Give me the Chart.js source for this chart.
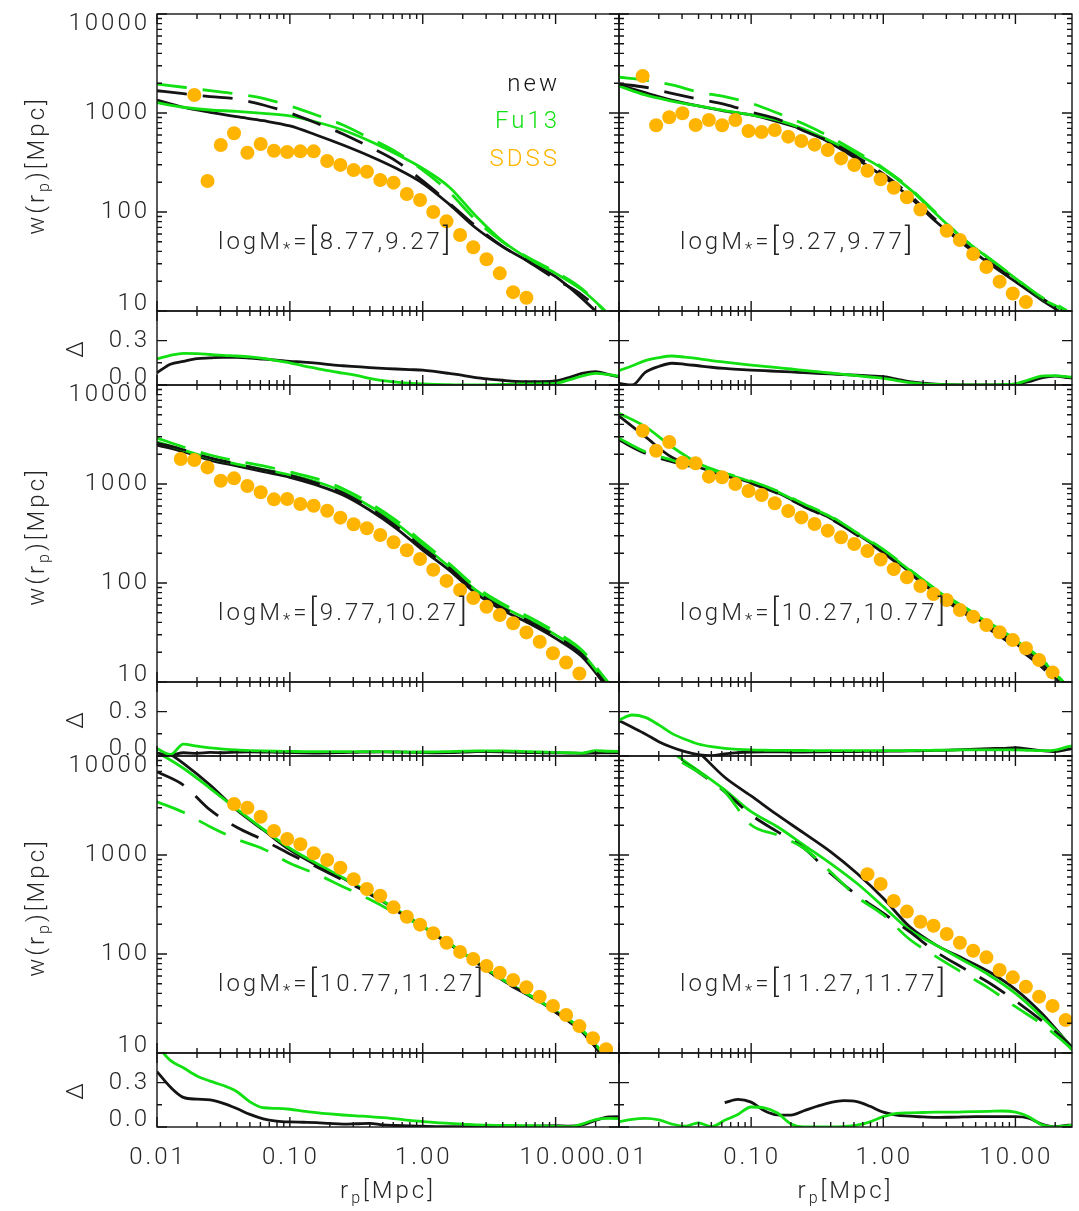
<!DOCTYPE html>
<html>
<head>
<meta charset="utf-8">
<title>w(rp) by stellar mass</title>
<script src="https://cdn.jsdelivr.net/npm/chart.js@4.4.1/dist/chart.umd.min.js"></script>
<style>
  html, body { margin: 0; padding: 0; background: #fff; }
  body { width: 1079px; height: 1211px; position: relative; overflow: hidden; }
  canvas { position: absolute; top: 0; }
  #colA { left: 0; }
  #colB { left: 560px; }
</style>
</head>
<body>
<canvas id="colA" width="700" height="1211"></canvas>
<canvas id="colB" width="519" height="1211"></canvas>
<script>
// separation grids [Mpc]
const rpModel = [0.01, 0.0158, 0.0251, 0.0398, 0.0631, 0.1, 0.158, 0.251, 0.398, 0.631, 1, 1.58, 2.51, 3.98, 6.31, 10, 15.8, 25.1, 39.8];
const rpDelta = [0.01, 0.0126, 0.0158, 0.02, 0.0251, 0.0316, 0.0398, 0.0501, 0.0631, 0.0794, 0.1, 0.126, 0.158, 0.2, 0.251, 0.316, 0.398, 0.501, 0.631, 0.794,
                 1, 1.26, 1.58, 2, 2.51, 3.16, 3.98, 5.01, 6.31, 7.94, 10, 12.6, 15.8, 20, 25.1, 31.6];
const rpSDSS = [0.0151, 0.0191, 0.024, 0.0302, 0.038, 0.0479, 0.0603, 0.0759, 0.0955, 0.12, 0.151, 0.191, 0.24, 0.302, 0.38, 0.479, 0.603,
                0.759, 0.955, 1.2, 1.51, 1.91, 2.4, 3.02, 3.8, 4.79, 6.03, 7.59, 9.55, 12, 15.1, 19.1, 24];

const massBins = ['8.77,9.27', '9.27,9.77', '9.77,10.27', '10.27,10.77', '10.77,11.27', '11.27,11.77'];

// w(rp) of the new model, solid
const newW1 = [1352, 1143, 1016, 918, 836, 740, 600, 475, 368, 276, 195, 120, 68.9, 44.7, 31.5, 22.2, 13.4, 7.4, 4.0];
const newW2 = [1919, 1603, 1352, 1178, 1047, 955, 817, 673, 498, 343, 228, 142, 79.8, 48.3, 30.3, 19.8, 12.9, 8.5, 4.5];
const newW3 = [2477, 2118, 1746, 1521, 1330, 1169, 977, 774, 546, 357, 215, 135, 78.7, 53.3, 39.2, 27.6, 18.0, 8.5, 4.6];
const newW4 = [4864, 3006, 1862, 1476, 1233, 1030, 817, 600, 451, 313, 207, 130, 79.8, 53.3, 36.8, 24.6, 15.5, 7.9, 4.1];
const newW5 = [12900, 8430, 5090, 2850, 1790, 1125, 792, 582, 410, 278, 189, 128, 83.6, 54.6, 38.5, 26.1, 16.4, 7.9, 4.2];
const newW6 = [46500, 29200, 18300, 11000, 6100, 3950, 2540, 1660, 1080, 653, 366, 189, 123, 90.6, 66.2, 44.0, 25.2, 12.5, 6.3];

// w(rp) of Fu13, solid
const fuW1 = [1271, 1143, 1072, 1040, 993, 933, 811, 673, 521, 385, 275, 179, 91.2, 50.9, 33.5, 24.0, 16.3, 9.3, 5.1];
const fuW2 = [1875, 1521, 1321, 1178, 1054, 955, 849, 689, 521, 385, 272, 171, 95.5, 54.2, 34.0, 21.4, 13.4, 9.5, 5.3];
const fuW3 = [2673, 2203, 1820, 1592, 1406, 1233, 1054, 836, 600, 401, 242, 146, 84.9, 57.7, 42.3, 29.9, 19.5, 9.1, 5.0];
const fuW4 = [5176, 3793, 2382, 1618, 1282, 1054, 836, 614, 468, 318, 215, 135, 84.9, 57.7, 39.2, 26.5, 16.7, 8.7, 4.6];
const fuW5 = [11000, 7520, 4720, 2900, 1820, 1169, 824, 590, 416, 282, 192, 128, 83.6, 55.5, 38.5, 26.7, 17.1, 8.5, 4.5];
const fuW6 = [null, 18300, 11000, 7110, 4540, 2740, 1930, 1260, 824, 518, 301, 175, 123, 86.9, 61.4, 40.1, 23.3, 12.5, 6.3];

// dashed variants
const newW1d = [1679, 1567, 1462, 1384, 1205, 1000, 792, 614, 454, 327, 206, 123, 71.8, 45.0, 31.3, 21.0, 14.5, 8.3, 4.5];
const newW2d = [1963, 1820, 1581, 1384, 1225, 1023, 869, 658, 509, 360, 242, 149, 83, 49.8, 31.3, 20.6, 13.5, 8.9, 4.9];
const newW3d = [2594, 2218, 1832, 1592, 1393, 1225, 1023, 811, 573, 374, 226, 142, 82.4, 55.8, 41.0, 29.0, 18.9, 8.9, 4.9];
const newW4d = [2780, 2042, 1679, 1442, 1213, 1016, 805, 590, 443, 305, 202, 126, 77.4, 50.9, 34.3, 22.6, 14.2, 7.4, 3.9];
const newW5d = [6930, 5090, 2850, 1905, 1419, 1023, 762, 558, 404, 274, 186, 126, 82.4, 53.7, 37.9, 25.8, 16.2, 8.1, 4.3];
const newW6d = [null, 16300, 10200, 6890, 4360, 2540, 1720, 1170, 653, 394, 258, 168, 105, 72.8, 51.3, 33.7, 21.2, 12.5, 6.3];

const fuW1d = [1963, 1820, 1679, 1556, 1406, 1178, 955, 757, 558, 404, 265, 159, 83, 49.8, 34.3, 24.8, 16.7, 9.1, 5.0];
const fuW2d = [2296, 2153, 1919, 1629, 1462, 1253, 1000, 774, 573, 404, 278, 175, 97.7, 54.6, 34.3, 21.5, 13.8, 9.8, 5.3];
const fuW3d = [2917, 2366, 1963, 1706, 1521, 1321, 1132, 897, 643, 430, 259, 157, 91.2, 61.8, 45.4, 32.0, 20.9, 9.8, 5.3];
const fuW4d = [2897, 2118, 1746, 1476, 1282, 1072, 849, 628, 475, 322, 219, 137, 86.3, 58.6, 39.7, 27.0, 16.9, 8.9, 4.8];
const fuW5d = [3451, 2698, 1932, 1442, 1151, 824, 643, 479, 357, 258, 189, 128, 83.6, 55.5, 38.5, 26.7, 17.1, 8.5, 4.5];
const fuW6d = [null, 16300, 10000, 6890, 4360, 2010, 1590, 1170, 678, 379, 248, 141, 94, 64.7, 45.0, 29.4, 19.6, 11.8, 6.0];

// SDSS measurements
const sdss1 = [null, 1521, 206, 475, 624, 397, 486, 416, 404, 410, 410, 327, 299, 265, 255, 210, 198, 152, 132, 100, 80.5, 58.6, 44.0,
               33.3, 24.0, 15.5, 13.6, null, null, null, null, null, null];
const sdss2 = [2366, 752, 906, 993, 757, 849, 752, 849, 658, 643, 673, 577, 521, 479, 423, 348, 298, 261, 214, 176, 141, 106, null,
               64.7, 52.1, 37.7, 27.8, 19.8, 15.0, 12.3, null, null, null];
const sdss3 = [1790, 1746, 1472, 1079, 1140, 955, 824, 700, 705, 628, 604, 537, 457, 392, 357, 305, 258, 214, 175, 136, 105, 85.0,
               70.5, 57.6, 47.5, 39.2, 31.7, 25.5, 19.5, 15.7, 12.2, null, null];
const sdss4 = [3451, 2168, 2655, 1641, 1618, 1186, 1169, 1000, 849, 774, 638, 533, 460, 394, 338, 289, 248, 210, 173, 138, 114, 93.0,
               77.5, 67.3, 53.3, 45.7, 37.7, 31.8, 26.5, 21.9, 16.7, 12.5, null];
const sdss5 = [null, null, null, null, 3273, 3006, 2438, 1746, 1452, 1283, 1040, 890, 744, 569, 454, 388, 296, 238, 198, 162, 130, 105,
               89.0, 75.7, 64.7, 54.6, 46.1, 37.1, 29.9, 24.2, 18.7, 14.1, 10.9];
const sdss6 = [null, null, null, null, null, null, null, null, null, null, null, null, null, null, null, null, null, 638, 509, 343, 268,
               212, 193, 159, 130, 108, 92.5, 68.9, 58.1, 46.7, 37.1, 29.9, 21.5];

// residuals Delta
const newD1 = [0.083, 0.14, 0.16, 0.178, 0.183, 0.187, 0.187, 0.182, 0.175, 0.168, 0.16, 0.155, 0.148, 0.137, 0.13, 0.124, 0.118, 0.113,
               0.108, 0.104, 0.101, 0.09, 0.078, 0.065, 0.05, 0.04, 0.032, 0.025, 0.023, 0.023, 0.027, 0.05, 0.078, 0.09, 0.07, 0.05];
const fuD1 = [0.176, 0.2, 0.214, 0.212, 0.206, 0.2, 0.196, 0.19, 0.18, 0.165, 0.15, 0.13, 0.113, 0.095, 0.08, 0.065, 0.045, 0.03,
              0.02, 0.012, 0.007, 0.004, 0.002, 0, 0, 0.002, 0.004, 0.006, 0.008, 0.009, 0.011, 0.035, 0.06, 0.079, 0.07, 0.056];
const newD2 = [0.011, 0.0, 0.085, 0.125, 0.147, 0.14, 0.13, 0.12, 0.112, 0.106, 0.101, 0.097, 0.092, 0.088, 0.083, 0.079, 0.075, 0.07,
               0.066, 0.061, 0.056, 0.04, 0.023, 0.012, 0.006, 0.003, 0.001, 0, 0, 0.002, 0.005, 0.022, 0.048, 0.06, 0.05, 0.04];
const fuD2 = [0.097, 0.13, 0.165, 0.185, 0.196, 0.188, 0.178, 0.165, 0.155, 0.145, 0.135, 0.126, 0.117, 0.108, 0.099, 0.09, 0.081, 0.072,
              0.063, 0.054, 0.045, 0.03, 0.016, 0.008, 0.004, 0.002, 0, 0, 0, 0.003, 0.008, 0.035, 0.06, 0.063, 0.055, 0.05];
const newD3 = [0.02, 0.008, 0.022, 0.018, 0.024, 0.022, 0.026, 0.028, 0.027, 0.025, 0.023, 0.021, 0.02, 0.021, 0.023, 0.025, 0.027, 0.028,
               0.027, 0.025, 0.023, 0.022, 0.023, 0.026, 0.029, 0.03, 0.028, 0.025, 0.023, 0.022, 0.021, 0.02, 0.018, 0.02, 0.022, 0.02];
const fuD3 = [0.05, 0.01, 0.08, 0.066, 0.055, 0.047, 0.041, 0.037, 0.034, 0.032, 0.031, 0.03, 0.029, 0.029, 0.029, 0.03, 0.03, 0.029,
              0.028, 0.027, 0.027, 0.028, 0.03, 0.032, 0.034, 0.035, 0.034, 0.032, 0.03, 0.027, 0.024, 0.022, 0.02, 0.036, 0.032, 0.03];
const newD4 = [0.239, 0.194, 0.149, 0.097, 0.059, 0.029, 0.009, 0.002, 0.014, 0.023, 0.027, 0.028, 0.028, 0.027, 0.027, 0.028, 0.029, 0.03,
               0.03, 0.031, 0.032, 0.033, 0.034, 0.036, 0.038, 0.04, 0.043, 0.047, 0.05, 0.052, 0.056, 0.047, 0.036, 0.029, 0.045, 0.063];
const fuD4 = [0.243, 0.277, 0.261, 0.21, 0.153, 0.113, 0.081, 0.063, 0.052, 0.045, 0.041, 0.039, 0.038, 0.037, 0.037, 0.036, 0.036, 0.036,
              0.036, 0.036, 0.036, 0.036, 0.037, 0.038, 0.039, 0.04, 0.041, 0.041, 0.041, 0.041, 0.041, 0.038, 0.036, 0.04, 0.063, 0.081];
const newD5 = [0.374, 0.27, 0.2, 0.188, 0.183, 0.16, 0.125, 0.085, 0.055, 0.04, 0.034, 0.032, 0.03, 0.024, 0.02, 0.022, 0.025, 0.014,
               0.01, 0.007, 0.005, 0.003, 0.002, 0.002, 0.002, 0.002, 0.003, 0.004, 0.005, 0.007, 0.009, 0.005, 0.014, 0.045, 0.068, 0.07];
const fuD5 = [0.55, 0.45, 0.4, 0.345, 0.31, 0.28, 0.24, 0.17, 0.13, 0.126, 0.12, 0.108, 0.097, 0.088, 0.081, 0.075, 0.07, 0.063,
              0.055, 0.045, 0.037, 0.03, 0.025, 0.02, 0.014, 0.012, 0.01, 0.01, 0.009, 0.008, 0.006, 0.002, 0.02, 0.05, 0.058, 0.055];
const newD6 = [null, null, null, null, null, null, null, null, 0.164, 0.187, 0.168, 0.11, 0.082, 0.08, 0.11, 0.14, 0.165, 0.178,
               0.172, 0.14, 0.1, 0.08, 0.074, 0.068, 0.065, 0.066, 0.068, 0.07, 0.07, 0.07, 0.07, 0.06, 0.02, 0.002, 0.012, 0.015];
const fuD6 = [0.036, 0.052, 0.058, 0.048, 0.02, 0.005, 0.028, 0.002, 0.045, 0.085, 0.135, 0.13, 0.095, 0.02, 0, 0, 0, 0.003,
              0.012, 0.035, 0.07, 0.092, 0.096, 0.098, 0.1, 0.1, 0.102, 0.104, 0.106, 0.108, 0.1, 0.07, 0.015, 0, 0.01, 0.015];

const newW = [newW1, newW2, newW3, newW4, newW5, newW6];
const fuW = [fuW1, fuW2, fuW3, fuW4, fuW5, fuW6];
const newWd = [newW1d, newW2d, newW3d, newW4d, newW5d, newW6d];
const fuWd = [fuW1d, fuW2d, fuW3d, fuW4d, fuW5d, fuW6d];
const sdss = [sdss1, sdss2, sdss3, sdss4, sdss5, sdss6];
const newD = [newD1, newD2, newD3, newD4, newD5, newD6];
const fuD = [fuD1, fuD2, fuD3, fuD4, fuD5, fuD6];

const INK = '#141414';
const GREEN = '#12e012';
const ORANGE = '#ffb400';
const TEXT = '#262626';
const FAMILY = 'Roboto, "DejaVu Sans", sans-serif';

const X_MAJOR = [0.01, 0.1, 1, 10];
const X_MINOR = [];
for (let n = -2; n <= 1; n++) for (let k = 2; k <= 9; k++) X_MINOR.push(k * Math.pow(10, n));
const W_MAJOR = [10, 100, 1000, 10000];
const W_MINOR = [];
for (let n = 1; n <= 3; n++) for (let k = 2; k <= 9; k++) W_MINOR.push(k * Math.pow(10, n));

function pts(xs, ys) {
  return xs.map((x, i) => ({ x: x, y: ys[i] }));
}

function curve(ys, xs, axis, color, dashed) {
  return {
    data: pts(xs, ys),
    yAxisID: axis,
    borderColor: color,
    borderWidth: 2.8,
    borderDash: dashed ? [30, 16] : [],
    pointRadius: 0,
    cubicInterpolationMode: 'monotone',
    fill: false,
    order: 1,
    panelClip: true
  };
}

// text made of pieces: [string, size, dy]
function runs(ctx, parts, x, y, align, color) {
  ctx.fillStyle = color;
  ctx.textBaseline = 'middle';
  ctx.textAlign = 'left';
  ctx.letterSpacing = '3px';
  let w = 0;
  for (const p of parts) {
    ctx.font = '300 ' + p[1] + 'px ' + FAMILY;
    w += ctx.measureText(p[0]).width;
  }
  let cx = align === 'center' ? x - w / 2 : align === 'right' ? x - w : x;
  for (const p of parts) {
    ctx.font = '300 ' + p[1] + 'px ' + FAMILY;
    ctx.fillText(p[0], cx, y + (p[2] || 0));
    cx += ctx.measureText(p[0]).width;
  }
}

function drawPanel(ctx, xs, ys, left, right, yMajor, yMinor) {
  const top = ys.top, bottom = ys.bottom;
  ctx.strokeStyle = INK;
  ctx.lineWidth = 1.4;
  ctx.setLineDash([]);
  ctx.strokeRect(left, top, right - left, bottom - top);
  ctx.beginPath();
  const tick = (px, py, dx, dy) => { ctx.moveTo(px, py); ctx.lineTo(px + dx, py + dy); };
  [[X_MAJOR, 10], [X_MINOR, 5]].forEach(([vals, len]) => {
    vals.forEach(v => {
      if (v < xs.min || v > xs.max) return;
      const px = xs.getPixelForValue(v);
      tick(px, bottom, 0, -len);
      tick(px, top, 0, len);
    });
  });
  [[yMajor, 10], [yMinor, 5]].forEach(([vals, len]) => {
    vals.forEach(v => {
      const py = ys.getPixelForValue(v);
      tick(left, py, len, 0);
      tick(right, py, -len, 0);
    });
  });
  ctx.stroke();
}

const panelClip = {
  id: 'panelClip',
  beforeDatasetDraw(chart, args) {
    const ds = chart.data.datasets[args.index];
    if (!ds.panelClip) return;
    const ys = chart.scales[args.meta.yAxisID];
    const a = chart.chartArea;
    chart.ctx.save();
    chart.ctx.beginPath();
    chart.ctx.rect(a.left, ys.top, a.right - a.left, ys.bottom - ys.top);
    chart.ctx.clip();
  },
  afterDatasetDraw(chart, args) {
    if (chart.data.datasets[args.index].panelClip) chart.ctx.restore();
  }
};

const frames = {
  id: 'frames',
  afterDraw(chart, args, opts) {
    const ctx = chart.ctx;
    const a = chart.chartArea;
    const xs = chart.scales.x;
    const col = opts.col;
    ctx.save();
    for (let row = 0; row < 3; row++) {
      const m = chart.scales['m' + row];
      const d = chart.scales['d' + row];
      drawPanel(ctx, xs, m, a.left, a.right, W_MAJOR, W_MINOR);
      drawPanel(ctx, xs, d, a.left, a.right, [0, 0.3], [0.15]);

      const bin = massBins[row * 2 + col].split(',');
      runs(ctx, [['logM', 24], ['*', 17, 7], ['=', 24], ['[', 31, -1], [bin[0] + ',' + bin[1], 24], [']', 31, -1]],
           a.left + 61, m.top + 229, 'left', TEXT);

      if (col === 0) {
        const yLab = (sc, v, s) => {
          const py = Math.min(Math.max(sc.getPixelForValue(v), sc.top + 10), sc.bottom - 7);
          runs(ctx, [[s, 24]], a.left - 7, py, 'right', TEXT);
        };
        yLab(m, 10, '10'); yLab(m, 100, '100'); yLab(m, 1000, '1000'); yLab(m, 10000, '10000');
        yLab(d, 0, '0.0'); yLab(d, 0.3, '0.3');

        ctx.save();
        ctx.translate(38, (m.top + m.bottom) / 2 + 3);
        ctx.rotate(-Math.PI / 2);
        runs(ctx, [['w(r', 24], ['p', 16, 7], [')', 24], ['[Mpc]', 24]], 0, 0, 'center', TEXT);
        ctx.restore();

        ctx.save();
        ctx.translate(77, (d.top + d.bottom) / 2);
        ctx.rotate(-Math.PI / 2);
        runs(ctx, [['\u0394', 24]], 0, 0, 'center', TEXT);
        ctx.restore();
      }
    }
    if (col === 0) {
      const top = chart.scales.m0.top;
      runs(ctx, [['new', 24]], 560, top + 71, 'right', INK);
      runs(ctx, [['Fu13', 24]], 560, top + 108, 'right', GREEN);
      runs(ctx, [['SDSS', 24]], 560, top + 146, 'right', ORANGE);
    }
    const xt = ['0.01', '0.10', '1.00', '10.00'];
    X_MAJOR.forEach((v, i) => {
      runs(ctx, [[xt[i], 24]], xs.getPixelForValue(v) + 1, a.bottom + 31, 'center', TEXT);
    });
    runs(ctx, [['r', 24], ['p', 16, 7], ['[Mpc]', 24]], (a.left + a.right) / 2, a.bottom + 65, 'center', TEXT);
    ctx.restore();
  }
};

function buildColumn(canvasId, col, xMax, padLeft, padRight) {
  const datasets = [];
  const scales = { x: { type: 'logarithmic', min: 0.01, max: xMax, display: false } };
  // stacked panels; later keys sit higher in a left-hand stack
  for (let row = 2; row >= 0; row--) {
    scales['d' + row] = { type: 'linear', min: 0, max: 0.5, display: false, position: 'left', stack: 'col', stackWeight: 74 };
    scales['m' + row] = { type: 'logarithmic', min: 10, max: 10000, display: false, position: 'left', stack: 'col', stackWeight: 297 };
  }
  for (let row = 0; row < 3; row++) {
    const b = row * 2 + col;
    datasets.push({
      data: pts(rpSDSS, sdss[b]).filter(p => p.y !== null),
      yAxisID: 'm' + row,
      showLine: false,
      pointRadius: 7,
      pointBackgroundColor: ORANGE,
      pointBorderWidth: 0,
      order: 0
    });
    datasets.push(curve(fuWd[b], rpModel, 'm' + row, GREEN, true));
    datasets.push(curve(newWd[b], rpModel, 'm' + row, INK, true));
    datasets.push(curve(fuW[b], rpModel, 'm' + row, GREEN, false));
    datasets.push(curve(newW[b], rpModel, 'm' + row, INK, false));
    datasets.push(curve(fuD[b], rpDelta, 'd' + row, GREEN, false));
    datasets.push(curve(newD[b], rpDelta, 'd' + row, INK, false));
  }
  return new Chart(document.getElementById(canvasId), {
    type: 'line',
    data: { datasets: datasets },
    options: {
      responsive: false,
      animation: false,
      devicePixelRatio: 1,
      events: [],
      layout: { padding: { left: padLeft, right: padRight, top: 14, bottom: 84 } },
      scales: scales,
      plugins: { legend: { display: false }, tooltip: { enabled: false }, frames: { col: col } }
    },
    plugins: [panelClip, frames]
  });
}

buildColumn('colA', 0, 30, 157, 81);
buildColumn('colB', 1, 26.8, 59, 3);
</script>
</body>
</html>
